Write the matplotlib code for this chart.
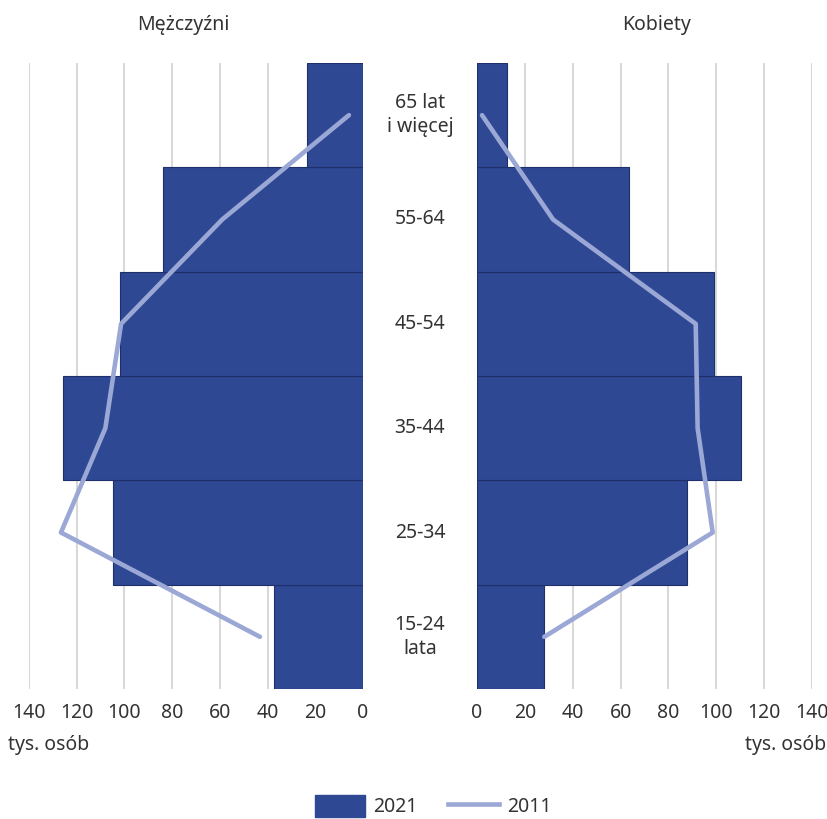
import matplotlib
matplotlib.use("Agg")
import matplotlib.pyplot as plt
import numpy as np
from matplotlib.patches import Patch
from matplotlib.lines import Line2D

plt.rcParams['font.family'] = ['Noto Sans', 'DejaVu Sans']

categories = ["15-24\nlata", "25-34", "35-44", "45-54", "55-64", "65 lat\ni więcej"]
men_2021 = [37.3, 104.8, 125.7, 101.8, 83.8, 23.5]
men_2011 = [43.2, 126.6, 108.0, 101.4, 59.0, 5.9]
women_2021 = [28.1, 87.6, 110.2, 98.9, 63.7, 12.6]
women_2011 = [28.1, 98.5, 92.2, 91.4, 31.8, 2.1]
ticks = [0, 20, 40, 60, 80, 100, 120, 140]

BAR = '#2E4894'
EDGE = '#1E2F6A'
LINE = '#9BA8D6'
GRID = '#D9D9D9'
TXT = '#333333'
FS = 14

fig = plt.figure(figsize=(8.28, 8.19), dpi=100)
bottom, top = 1 - 689 / 819, 1 - 63 / 819
axL = fig.add_axes([29 / 828, bottom, (363 - 29) / 828, top - bottom])
axR = fig.add_axes([477 / 828, bottom, (812 - 477) / 828, top - bottom])

y = np.arange(len(categories))
for ax, bars, line in [(axL, men_2021, men_2011), (axR, women_2021, women_2011)]:
    ax.barh(y, bars, height=1.0, color=BAR, edgecolor=EDGE, linewidth=0.8, zorder=2)
    ax.plot(line, y, color=LINE, linewidth=3.3, zorder=3, solid_capstyle='round')
    ax.set_xlim(0, 140)
    ax.set_ylim(-0.5, len(categories) - 0.5)
    ax.set_xticks(ticks)
    ax.set_xticklabels([str(t) for t in ticks], fontsize=FS, color=TXT)
    ax.tick_params(axis='x', length=0, pad=10)
    ax.set_yticks([])
    ax.grid(axis='x', color=GRID, linewidth=1.5, zorder=0)
    ax.set_axisbelow(True)
    for s in ax.spines.values():
        s.set_visible(False)
axL.invert_xaxis()

for i, c in enumerate(categories):
    yy = bottom + (i + 0.5) / len(categories) * (top - bottom)
    fig.text(420 / 828, yy, c, ha='center', va='center', fontsize=FS, color=TXT,
             linespacing=1.3)

fig.text(183 / 828, 1 - 25 / 819, "Mężczyźni", ha='center', va='center', fontsize=FS, color=TXT)
fig.text(657 / 828, 1 - 25 / 819, "Kobiety", ha='center', va='center', fontsize=FS, color=TXT)
fig.text(8 / 828, 1 - 745 / 819, "tys. osób", ha='left', va='center', fontsize=FS, color=TXT)
fig.text(826 / 828, 1 - 745 / 819, "tys. osób", ha='right', va='center', fontsize=FS, color=TXT)

handles = [Patch(facecolor=BAR, edgecolor=BAR), Line2D([0], [0], color=LINE, linewidth=3.3)]
fig.legend(handles, ["2021", "2011"], loc='center', bbox_to_anchor=(433 / 828, 1 - 806 / 819),
           ncol=2, frameon=False, fontsize=FS, handlelength=2.6, handleheight=1.4,
           columnspacing=1.6, handletextpad=0.4, labelcolor=TXT)

fig.savefig("out.png", dpi=100, facecolor='white')
